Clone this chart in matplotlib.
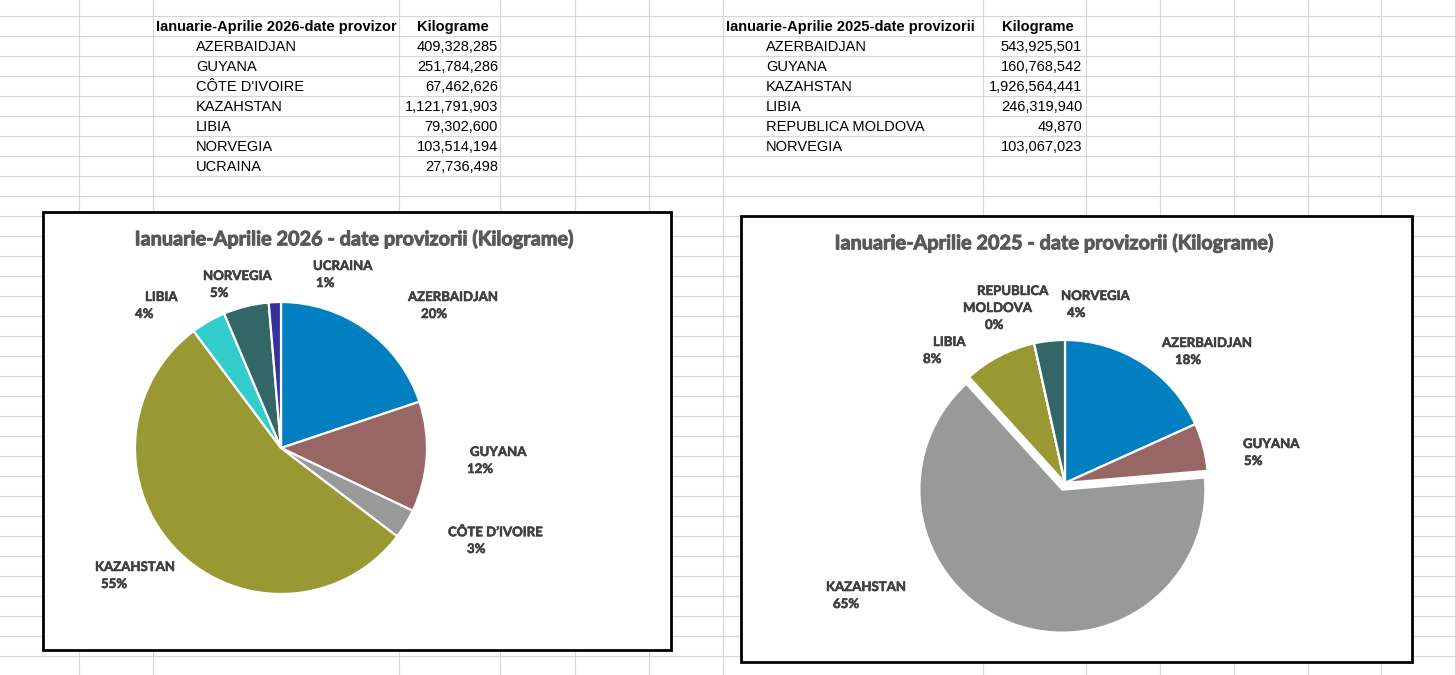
import numpy as np
import matplotlib
matplotlib.use("Agg")
import matplotlib.pyplot as plt
from matplotlib.patches import Rectangle
import matplotlib.patheffects as pe

W, H = 1456, 675

# --- data ---
tari_2026 = ["AZERBAIDJAN", "GUYANA", "CÔTE D'IVOIRE", "KAZAHSTAN", "LIBIA", "NORVEGIA", "UCRAINA"]
kg_2026 = [409328285, 251784286, 67462626, 1121791903, 79302600, 103514194, 27736498]
tari_2025 = ["AZERBAIDJAN", "GUYANA", "KAZAHSTAN", "LIBIA", "REPUBLICA MOLDOVA", "NORVEGIA"]
kg_2025 = [543925501, 160768542, 1926564441, 246319940, 49870, 103067023]

antet_2026 = "Ianuarie-Aprilie 2026-date provizor"   # taiat de celula in Excel
antet_2025 = "Ianuarie-Aprilie 2025-date provizorii"
titlu_2026 = "Ianuarie-Aprilie 2026 - date provizorii (Kilograme)"
titlu_2025 = "Ianuarie-Aprilie 2025 - date provizorii (Kilograme)"

culori_2026 = ["#0080C0", "#996666", "#999999", "#999933", "#33CCCC", "#336666", "#333399"]
culori_2025 = ["#0080C0", "#996666", "#999999", "#999933", "#33CCCC", "#336666"]

# pozitii etichete (pixeli ecran): x stanga pentru fiecare rand, y primul rand
etich_2026 = [([408, 421], 297), ([470, 467], 452), ([448, 467], 532), ([95, 101], 567),
              ([145, 135], 297), ([203, 210], 276), ([313, 316], 266)]
etich_2025 = [([1162, 1175], 343), ([1243, 1244], 444), ([826, 833], 587),
              ([933, 923], 342), ([977, 963, 985], 291), ([1061, 1067], 296)]

coloane = [79, 153, 399, 500, 575, 649, 723, 983, 1086, 1160, 1234, 1308, 1381, 1455]
randuri = np.arange(16, 680, 20)


def Y(y):
    return H - y


def procente(kg):
    # ca in Excel: rotunjire care da suma 100 (cele mai mari resturi)
    p = 100 * np.array(kg, dtype=float) / sum(kg)
    baza = np.floor(p).astype(int)
    rest = 100 - baza.sum()
    ordine = np.argsort(-(p - baza))
    baza[ordine[:rest]] += 1
    return baza


fig = plt.figure(figsize=(W / 100, H / 100), dpi=100)
ax = fig.add_axes([0, 0, 1, 1])

# grila foaie de calcul
for x in coloane:
    ax.plot([x, x], [0, H], color="#D6D6D6", lw=0.8, zorder=0)
for y in randuri:
    ax.plot([0, W], [Y(y), Y(y)], color="#D6D6D6", lw=0.8, zorder=0)

# tabele
def tabel(x_antet, x_kg, x_nume, x_val, antet, tari, kg):
    ax.text(x_antet, Y(26.5), antet, fontsize=10.5, fontweight="bold",
            family="Liberation Sans", va="center", ha="left")
    ax.text(x_kg, Y(26.5), "Kilograme", fontsize=10.5, fontweight="bold",
            family="Liberation Sans", va="center", ha="left")
    for i, (t, v) in enumerate(zip(tari, kg)):
        yy = Y(47 + 20 * i)
        ax.text(x_nume, yy, t, fontsize=10.5, family="Liberation Sans", va="center", ha="left")
        ax.text(x_val, yy, f"{v:,}", fontsize=10.5, family="Liberation Sans", va="center", ha="right")

tabel(156, 417, 196, 498, antet_2026, tari_2026, kg_2026)
tabel(726, 1002, 766, 1082, antet_2025, tari_2025, kg_2025)

# chenare grafice
ax.add_patch(Rectangle((43, Y(650)), 628, 438, facecolor="white", edgecolor="black", lw=2, zorder=2))
ax.add_patch(Rectangle((741, Y(662)), 671, 446, facecolor="white", edgecolor="black", lw=2, zorder=2))

gros_titlu = [pe.withStroke(linewidth=0.7, foreground="#595959")]
gros_etich = [pe.withStroke(linewidth=0.4, foreground="#404040")]


def grafic(kg, tari, culori, centru, raza, explode, titlu, tx, ty, etich):
    # explode in pie e in unitati de date, aici pixeli -> inmultit cu raza
    expl = None if explode is None else [e * raza for e in explode]
    wedges, _ = ax.pie(kg, colors=culori, startangle=90, counterclock=False,
                       center=(centru[0], Y(centru[1])), radius=raza, explode=expl,
                       wedgeprops=dict(edgecolor="white", linewidth=1.6))
    for w in wedges:
        w.set_zorder(3)
    ax.text(tx, Y(ty), titlu, fontsize=14.3, fontweight="bold", family="Lato",
            color="#595959", ha="center", va="center", zorder=4, path_effects=gros_titlu)
    for t, p, (xs, y0) in zip(tari, procente(kg), etich):
        nume = t.replace("'", "\u2019")
        linii = nume.split(" ") if len(xs) > 2 else [nume]
        linii = linii + [f"{p}%"]
        for j, (ln, xx) in enumerate(zip(linii, xs)):
            ax.text(xx, Y(y0 + 17 * j), ln, fontsize=9.5, fontweight="bold", family="Lato",
                    color="#404040", ha="left", va="center", zorder=4, path_effects=gros_etich)


grafic(kg_2026, tari_2026, culori_2026, (281, 448), 146, None,
       titlu_2026, 355, 239, etich_2026)
grafic(kg_2025, tari_2025, culori_2025, (1065, 483), 143, [0, 0, 0.05, 0, 0, 0],
       titlu_2025, 1055, 243, etich_2025)

ax.set_xlim(0, W)
ax.set_ylim(0, H)
ax.set_aspect("auto")
ax.axis("off")

fig.savefig("out.png", dpi=100, facecolor="white")
